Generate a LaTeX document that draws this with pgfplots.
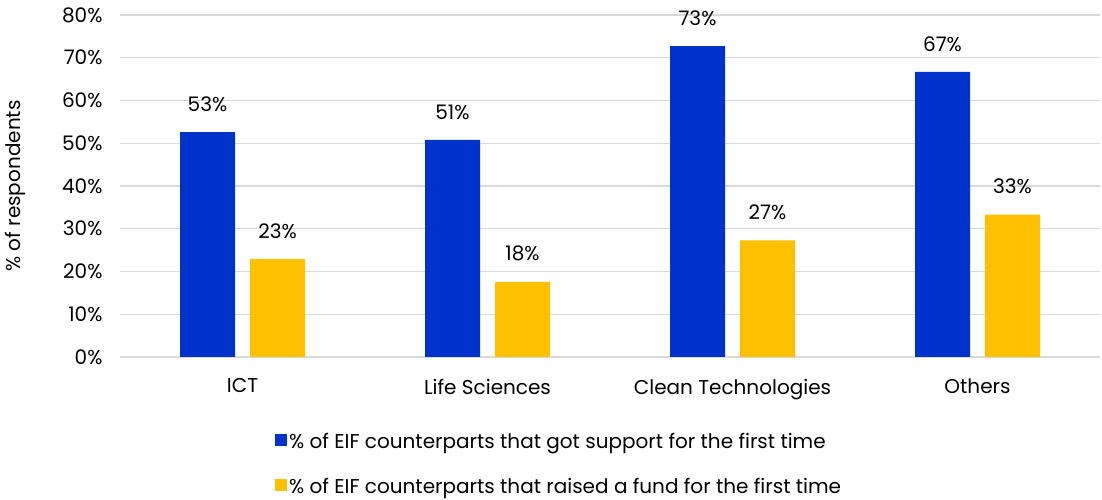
\documentclass[border=0pt]{standalone}
\usepackage{pgfplots}
\pgfplotsset{compat=1.18}
\usepackage{fontspec}
\setmainfont{Poppins}
\definecolor{eifblue}{HTML}{0033CC}
\definecolor{eifyellow}{HTML}{FFC000}
\definecolor{gridgray}{HTML}{D9D9D9}
\begin{document}
\begin{tikzpicture}[x=1pt,y=1pt]
\useasboundingbox (0,0) rectangle (1102,500);
\begin{axis}[
  at={(120pt,143pt)}, anchor=south west,
  scale only axis, width=980pt, height=342pt,
  xmin=-0.5, xmax=3.5, ymin=0, ymax=80,
  xtick={0,1,2,3},
  xticklabels={ICT,Life Sciences,Clean Technologies,Others},
  ytick={0,10,...,80},
  yticklabel={\pgfmathprintnumber{\tick}\%},
  /pgf/number format/assume math mode=true,
  font=\fontsize{20}{24}\selectfont,
  tick style={draw=none},
  ymajorgrids, grid style={gridgray, line width=1.3pt},
  axis line style={draw=none},
  axis x line*=bottom,
  ylabel={\% of respondents},
  every axis y label/.append style={at={(axis description cs:-0.107,0.5)}, anchor=center, rotate=0},
  xticklabel style={yshift=-14pt},
  yticklabel style={xshift=-14pt},
  ybar, bar width=55pt,
  nodes near coords={\pgfmathprintnumber[fixed,precision=0]{\pgfplotspointmeta}\%},
  nodes near coords style={font=\fontsize{20}{24}\selectfont, black, yshift=17pt},
  legend style={at={(0.155,-0.21)}, anchor=north west, draw=none, fill=none,
    font=\fontsize{20}{24}\selectfont, row sep=24pt},
  legend cell align=left,
  legend image code/.code={\fill[#1] (0pt,-5pt) rectangle (12pt,7pt);},
  clip=false,
]
\draw[gridgray, line width=1.3pt] (axis cs:-0.5,0) -- (axis cs:3.5,0);
\addplot[fill=eifblue, draw=none, bar shift=-35pt] coordinates {(0,52.6) (1,50.8) (2,72.7) (3,66.7)};
\addplot[fill=eifyellow, draw=none, bar shift=35pt] coordinates {(0,22.9) (1,17.6) (2,27.3) (3,33.3)};
\legend{\% of EIF counterparts that got support for the first time, \% of EIF counterparts that raised a fund for the first time}
\end{axis}
\end{tikzpicture}
\end{document}
